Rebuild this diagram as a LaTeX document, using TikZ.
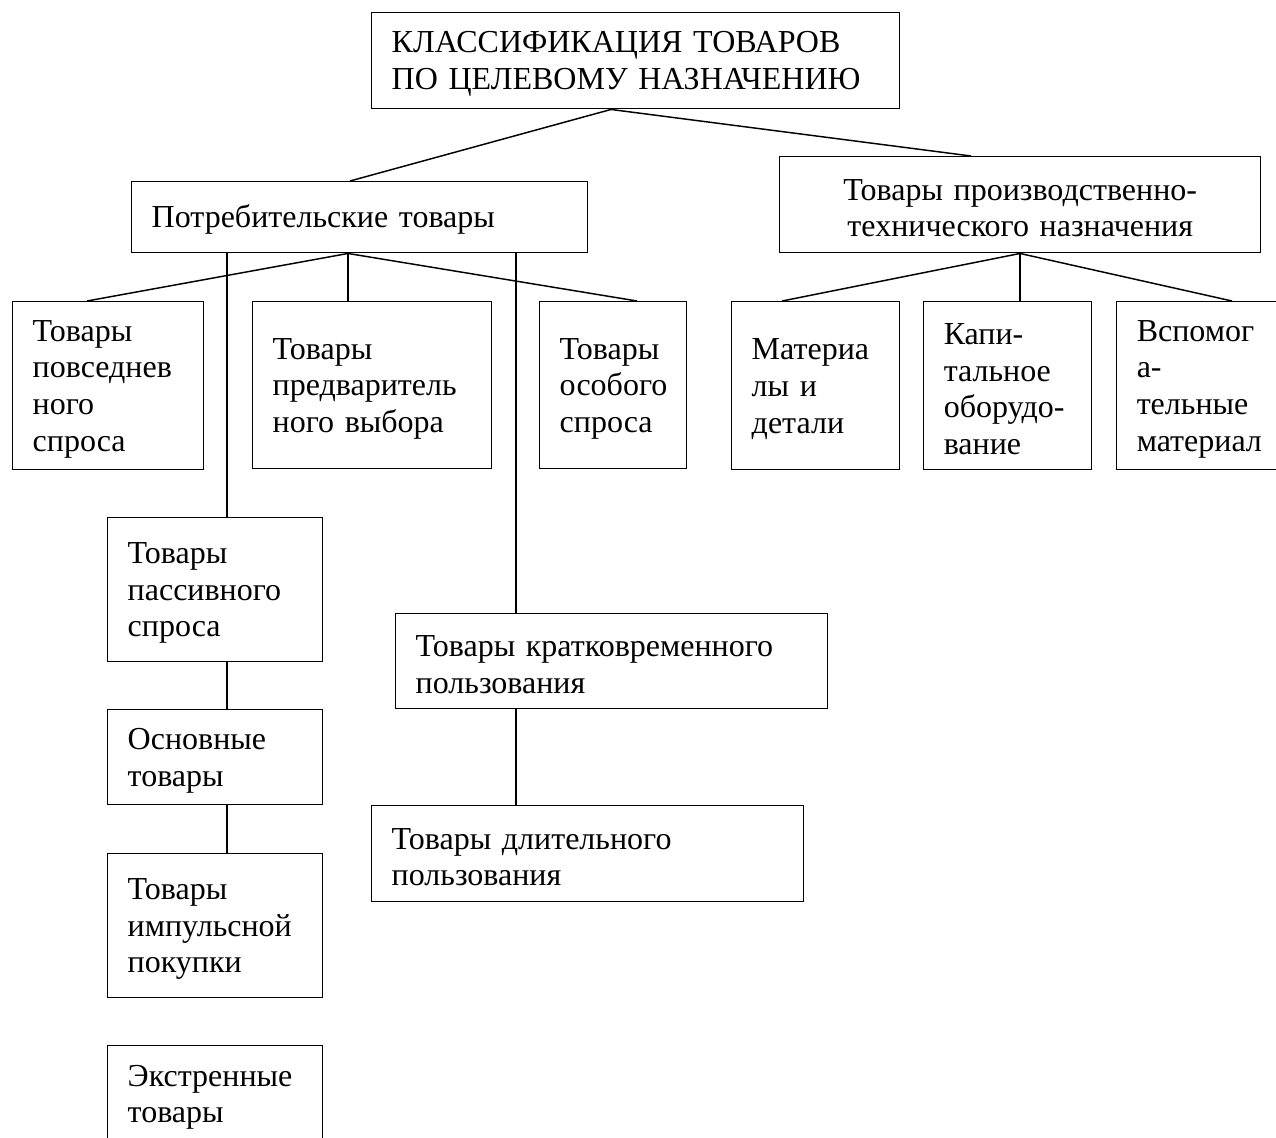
\documentclass[tikz,border=0pt]{standalone}
\usepackage{fontspec}
\setmainfont{Liberation Serif}
\usetikzlibrary{calc}
\begin{document}
\begin{tikzpicture}[x=0.75pt,y=-0.75pt,
  box/.style={draw, line width=1.1pt, anchor=north west, inner xsep=15pt, inner ysep=0pt,
    align=left, font=\fontsize{24}{27.5}\selectfont,
    execute at begin node={\rule{0pt}{21pt}}},
  conn/.style={line width=1.1pt}]
\fill[white] (0,0) rectangle (1276,1137);
\useasboundingbox (0,0) rectangle (1276,1137);

\node[box, text width=366pt, minimum width=396pt, minimum height=72pt] (top) at (371,12)
  {КЛАССИФИКАЦИЯ~ТОВАРОВ\\ПО~ЦЕЛЕВОМУ~НАЗНАЧЕНИЮ};
\node[box, text width=312pt, minimum width=342pt, minimum height=53.25pt] (potreb) at (131,181)
  {Потребительские~товары};
\node[box, align=center, text width=330.75pt, minimum width=360.75pt, minimum height=72pt] (proizv) at (779,156)
  {Товары~производственно-\\технического~назначения};

\node[box, text width=113.25pt, minimum width=143.25pt, minimum height=126pt] (povsed) at (12,301)
  {Товары\\повседнев\\ного\\спроса};
\node[box, text width=149.25pt, minimum width=179.25pt, minimum height=125.25pt] (predv) at (252,301)
  {Товары\\предваритель\\ного~выбора};
\node[box, text width=80.25pt, minimum width=110.25pt, minimum height=125.25pt] (osob) at (539,301)
  {Товары\\особого\\спроса};
\node[box, text width=96pt, minimum width=126pt, minimum height=126pt] (mater) at (731,301)
  {Материа\\лы~и\\детали};
\node[box, text width=96pt, minimum width=126pt, minimum height=126pt] (kapit) at (923,301)
  {Капи-\\тальное\\оборудо-\\вание};
\node[box, text width=96pt, minimum width=126pt, minimum height=126pt] (vspom) at (1116,301)
  {Вспомог\\а-\\тельные\\материал};

\node[box, text width=131.25pt, minimum width=161.25pt, minimum height=108pt] (passiv) at (107,517)
  {Товары\\пассивного\\спроса};
\node[box, text width=131.25pt, minimum width=161.25pt, minimum height=71.25pt] (osnov) at (107,709)
  {Основные\\товары};
\node[box, text width=131.25pt, minimum width=161.25pt, minimum height=108pt] (impuls) at (107,853)
  {Товары\\импульсной\\покупки};
\node[box, text width=131.25pt, minimum width=161.25pt, minimum height=72pt] (extren) at (107,1045)
  {Экстренные\\товары};

\node[box, text width=294pt, minimum width=324pt, minimum height=71.25pt] (kratk) at (395,613)
  {Товары~кратковременного\\пользования};
\node[box, text width=294pt, minimum width=324pt, minimum height=72pt] (dlit) at (371,805)
  {Товары~длительного\\пользования};

% connectors
\draw[conn] ($(top.south west)+(240,0)$) coordinate (tA) -- ($(potreb.north west)+(219,0)$);
\draw[conn] (tA) -- ($(proizv.north west)+(192,0)$);

\draw[conn] ($(potreb.south west)+(217,0)$) coordinate (pA) -- ($(povsed.north west)+(75,0)$);
\draw[conn] (pA) -- (pA |- predv.north);
\draw[conn] (pA) -- ($(osob.north west)+(98,0)$);

\draw[conn] ($(passiv.north west)+(120,0)$) coordinate (pv) -- (pv |- potreb.south);
\draw[conn] (pv |- passiv.south) -- (pv |- osnov.north);
\draw[conn] (pv |- osnov.south) -- (pv |- impuls.north);

\draw[conn] ($(kratk.north west)+(121,0)$) coordinate (kv) -- (kv |- potreb.south);
\draw[conn] (kv |- kratk.south) -- (kv |- dlit.north);

\draw[conn] ($(proizv.south west)+(241,0)$) coordinate (rA) -- ($(mater.north west)+(51,0)$);
\draw[conn] (rA) -- (rA |- kapit.north);
\draw[conn] (rA) -- ($(vspom.north west)+(116,0)$);
\end{tikzpicture}
\end{document}
